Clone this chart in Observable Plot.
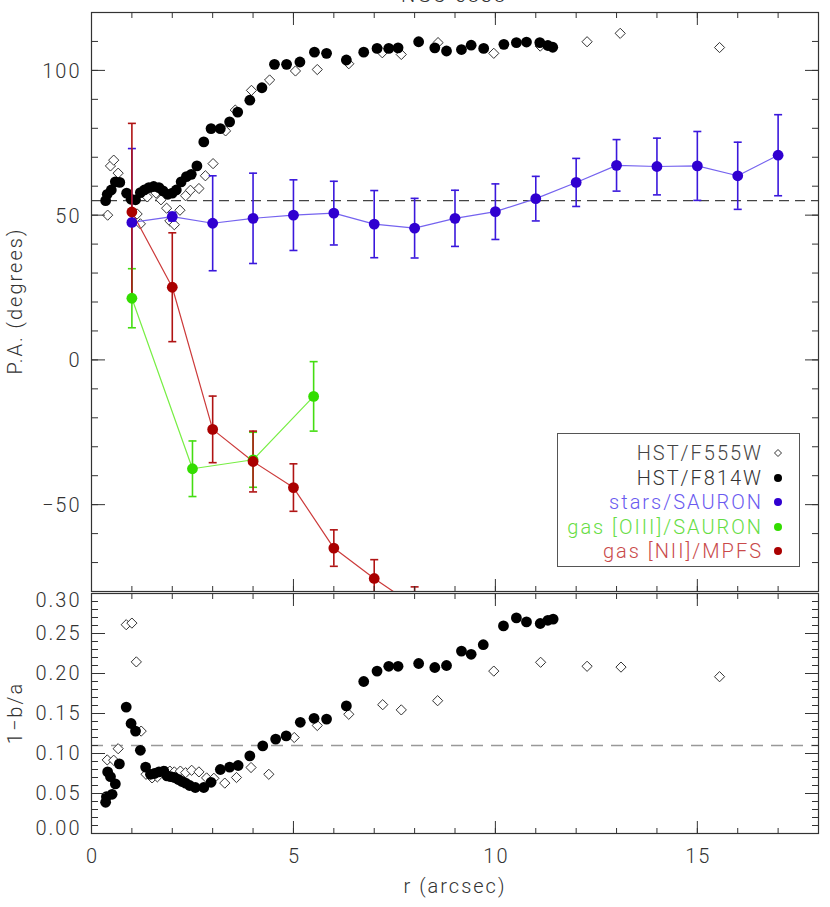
<!DOCTYPE html>
<html><head><meta charset="utf-8">
<script src="https://cdn.jsdelivr.net/npm/d3@7"></script>
<script src="https://cdn.jsdelivr.net/npm/@observablehq/plot@0.6"></script>
<style>
body{margin:0;background:#fff;}
#wrap{position:relative;width:830px;height:907px;overflow:hidden;font-family:Roboto,"DejaVu Sans",sans-serif;font-weight:300;color:#333;letter-spacing:2px;}
.panel{position:absolute;left:0;}
.lbl{position:absolute;font-size:20px;white-space:nowrap;color:#333;}
#legend{position:absolute;left:557px;top:433px;width:243px;height:134px;border:1px solid #555;box-sizing:border-box;background:#fff;}
.row{position:absolute;right:36px;font-size:20px;white-space:nowrap;line-height:22px;}
</style></head><body><div id="wrap"></div>
<script>
const title = "NGC 5838";
// ---- P.A. panel ----
const f555_r_pa = [0.40,0.47,0.55,0.66,1.13,1.21,1.38,1.60,1.72,1.86,1.94,2.05,2.19,2.33,2.45,2.66,2.82,3.01,3.32,3.56,3.96,4.41,5.05,5.59,6.37,7.20,7.67,8.58,9.96,11.11,12.27,13.09,15.55];
const f555_pa = [50.0,67.0,69.0,64.5,50.4,47.0,56.3,57.6,55.3,52.4,48.0,46.7,51.7,56.7,58.6,59.2,63.6,67.8,79.1,86.3,93.1,96.7,99.8,100.3,102.3,106.1,105.5,109.6,105.9,108.4,109.9,112.8,107.9];
const f814_r_pa = [0.35,0.39,0.49,0.59,0.70,0.87,0.98,1.09,1.21,1.31,1.42,1.54,1.67,1.77,1.89,2.00,2.10,2.22,2.35,2.47,2.61,2.78,2.96,3.19,3.42,3.62,3.92,4.22,4.53,4.83,5.16,5.52,5.82,6.31,6.74,7.07,7.36,7.59,8.10,8.50,8.79,9.16,9.40,9.71,10.21,10.52,10.77,11.10,11.30,11.42];
const f814_pa = [55.0,57.2,58.7,61.5,61.3,57.6,55.5,55.3,57.8,58.7,59.5,59.9,59.5,58.4,57.2,57.6,58.7,61.5,63.3,64.1,67.0,75.3,79.9,79.9,82.2,85.6,89.7,94.0,102.1,102.1,102.9,106.3,105.9,103.6,106.3,107.6,107.6,107.8,109.9,107.8,106.7,107.2,108.7,107.6,109.0,109.6,109.8,109.6,108.6,108.0];
const stars_r = [1,2,3,4,5,6,7,8,9,10,11,12,13,14,15,16,17];
const stars_pa = [47.5,49.5,47.2,48.9,50.0,50.7,46.9,45.5,48.9,51.2,55.7,61.3,67.2,66.8,67.0,63.6,70.7];
const stars_err = [25.5,1.5,16.4,15.6,12.2,11.0,11.6,10.3,9.7,9.6,7.7,8.3,8.9,9.8,11.9,11.6,14.0];
const oiii_r = [1,2.5,4,5.5];
const oiii_pa = [21.3,-37.6,-34.5,-12.6];
const oiii_err = [10.2,9.6,9.5,12.0];
const nii_r = [1,2,3,4,5,6,7,8];
const nii_pa = [51.1,25.1,-24.0,-35.1,-44.1,-65.0,-75.5,-85.0];
const nii_err = [30.6,18.8,11.5,10.5,8.2,6.3,6.5,6.6];
const pa_ref = 55;
// ---- ellipticity panel ----
const f555_r_e = [0.39,0.55,0.66,0.86,1.00,1.11,1.23,1.35,1.50,1.63,1.83,1.94,2.05,2.20,2.33,2.48,2.66,2.85,3.03,3.30,3.59,3.95,4.39,5.02,5.59,6.37,7.21,7.67,8.57,9.96,11.12,12.27,13.11,15.55];
const f555_e = [0.092,0.0916,0.106,0.261,0.263,0.2145,0.128,0.074,0.0695,0.0708,0.078,0.078,0.077,0.078,0.076,0.079,0.077,0.0695,0.069,0.063,0.070,0.0825,0.074,0.120,0.135,0.149,0.161,0.1545,0.166,0.203,0.214,0.209,0.208,0.196];
const f814_r_e = [0.35,0.37,0.40,0.47,0.51,0.59,0.69,0.86,0.98,1.09,1.21,1.34,1.46,1.56,1.67,1.79,1.87,1.96,2.05,2.15,2.24,2.33,2.43,2.57,2.78,2.96,3.19,3.42,3.63,3.92,4.24,4.56,4.82,5.17,5.51,5.82,6.31,6.74,7.07,7.36,7.59,8.10,8.50,8.79,9.16,9.40,9.70,10.20,10.52,10.77,11.11,11.30,11.43];
const f814_e = [0.039,0.046,0.077,0.071,0.049,0.062,0.087,0.158,0.1375,0.128,0.104,0.083,0.074,0.075,0.077,0.078,0.072,0.071,0.070,0.0675,0.065,0.063,0.060,0.0575,0.0575,0.064,0.080,0.083,0.085,0.097,0.1095,0.118,0.122,0.139,0.144,0.143,0.1595,0.190,0.203,0.209,0.209,0.2125,0.2075,0.210,0.228,0.224,0.236,0.2595,0.2695,0.2645,0.2625,0.2665,0.268];
const e_ref = 0.11;
const xTicksMajor = [0,5,10,15];
const xTicksMinor = d3.range(0,19,1);
const paTicksMajor = [-50,0,50,100];
const paTicksMinor = d3.range(-80,121,10);
const eTicksMajor = [0,0.05,0.10,0.15,0.20,0.25,0.30];
const eTicksInner = [0.05,0.10,0.15,0.20,0.25];
const eTicksMinor = d3.range(0,31,1).map(d=>d/100);

const zip = (xs, ys) => xs.map((x,i)=>({x, y: ys[i]}));
const errRows = (xs, ys, es) => xs.map((x,i)=>({x, y: ys[i], lo: ys[i]-es[i], hi: ys[i]+es[i]}));
const capSym = {draw(ctx, size){ const w = Math.sqrt(size/Math.PI); ctx.moveTo(-w,0); ctx.lineTo(w,0); }};
const axisCol = "#333";
const font = 'Roboto, "DejaVu Sans", sans-serif';
const pStyle = {fontFamily:font, fontSize:"20px", fontWeight:300, letterSpacing:"2px", background:"transparent", overflow:"visible"};

function frameTicks(yMaj, yMin, bottomLabels){
  const m = [
    Plot.axisX({anchor:"bottom", ticks:xTicksMinor, tickSize:-5, tickFormat:()=>"", label:null, stroke:axisCol}),
    Plot.axisX({anchor:"bottom", ticks:xTicksMajor, tickSize:-12, tickFormat:()=>"", label:null, stroke:axisCol}),
    Plot.axisX({anchor:"top", ticks:xTicksMinor, tickSize:-5, tickFormat:()=>"", label:null, stroke:axisCol}),
    Plot.axisX({anchor:"top", ticks:xTicksMajor, tickSize:-12, tickFormat:()=>"", label:null, stroke:axisCol}),
    Plot.axisY({anchor:"left", ticks:yMin, tickSize:-7, tickFormat:()=>"", label:null, stroke:axisCol}),
    Plot.axisY({anchor:"left", ticks:yMaj, tickSize:-14, tickFormat:()=>"", label:null, stroke:axisCol}),
    Plot.axisY({anchor:"right", ticks:yMin, tickSize:-7, tickFormat:()=>"", label:null, stroke:axisCol}),
    Plot.axisY({anchor:"right", ticks:yMaj, tickSize:-14, tickFormat:()=>"", label:null, stroke:axisCol}),
    Plot.frame({stroke:axisCol, strokeWidth:1.2})
  ];
  if (bottomLabels) m.push(Plot.axisX({anchor:"bottom", ticks:xTicksMajor, tickSize:0, tickPadding:15, label:null, fontSize:20, fill:"#333", dx:1}));
  return m;
}

function errMarks(rows, col){
  return [
    Plot.ruleX(rows, {x:"x", y1:"lo", y2:"hi", stroke:col, strokeWidth:1.6, clip:true}),
    Plot.dot(rows, {x:"x", y:"lo", symbol:capSym, r:4, stroke:col, strokeWidth:1.6, clip:true}),
    Plot.dot(rows, {x:"x", y:"hi", symbol:capSym, r:4, stroke:col, strokeWidth:1.6, clip:true})
  ];
}

const starsRows = errRows(stars_r, stars_pa, stars_err);
const oiiiRows = errRows(oiii_r, oiii_pa, oiii_err);
const niiRows = errRows(nii_r, nii_pa, nii_err);

const topPlot = Plot.plot({
  width:830, height:593, marginLeft:91, marginRight:12, marginTop:12, marginBottom:2,
  style:pStyle,
  x:{domain:[0,18]}, y:{domain:[-80,120]},
  marks:[
    Plot.ruleY([pa_ref], {stroke:"#444", strokeDasharray:"10,6", strokeWidth:1.2}),
    Plot.dot(zip(f555_r_pa, f555_pa), {x:"x", y:"y", symbol:"diamond2", r:4.6, stroke:"#333", fill:"white", strokeWidth:1, clip:true}),
    Plot.dot(zip(f814_r_pa, f814_pa), {x:"x", y:"y", r:5.4, fill:"black", clip:true}),
    ...errMarks(starsRows, "#3a18dc"),
    ...errMarks(oiiiRows, "#44dd11"),
    ...errMarks(niiRows, "#b01414"),
    Plot.line(starsRows, {x:"x", y:"y", stroke:"#7563ef", strokeWidth:1.2, clip:true}),
    Plot.line(oiiiRows, {x:"x", y:"y", stroke:"#77ee44", strokeWidth:1.2, clip:true}),
    Plot.line(niiRows, {x:"x", y:"y", stroke:"#cc3a3a", strokeWidth:1.2, clip:true}),
    Plot.dot(starsRows, {x:"x", y:"y", r:5.4, fill:"#3000d0", clip:true}),
    Plot.dot(oiiiRows, {x:"x", y:"y", r:5.4, fill:"#33dd00", clip:true}),
    Plot.dot(niiRows, {x:"x", y:"y", r:5.4, fill:"#aa0000", clip:true}),
    Plot.axisY({anchor:"left", ticks:paTicksMajor, tickSize:0, tickPadding:10, label:null, fontSize:20, fill:"#333", dy:1}),
    ...frameTicks(paTicksMajor, paTicksMinor, false)
  ]
});

const botPlot = Plot.plot({
  width:830, height:336, marginLeft:91, marginRight:12, marginTop:22, marginBottom:74,
  style:pStyle,
  x:{domain:[0,18]}, y:{domain:[0,0.30]},
  marks:[
    Plot.ruleY([e_ref], {stroke:"#999", strokeDasharray:"12,8", strokeWidth:1.6}),
    Plot.dot(zip(f555_r_e, f555_e), {x:"x", y:"y", symbol:"diamond2", r:4.6, stroke:"#333", fill:"white", strokeWidth:1}),
    Plot.dot(zip(f814_r_e, f814_e), {x:"x", y:"y", r:5.4, fill:"black"}),
    Plot.axisY({anchor:"left", ticks:eTicksInner, tickSize:0, tickPadding:10, tickFormat:d3.format(".2f"), label:null, fontSize:20, fill:"#333"}),
    Plot.axisY({anchor:"left", ticks:[0.30], tickSize:0, tickPadding:10, tickFormat:d3.format(".2f"), label:null, fontSize:20, fill:"#333", dy:7}),
    Plot.axisY({anchor:"left", ticks:[0], tickSize:0, tickPadding:10, tickFormat:d3.format(".2f"), label:null, fontSize:20, fill:"#333", dy:-5}),
    ...frameTicks(eTicksMajor, eTicksMinor, true)
  ]
});

const wrap = document.getElementById("wrap");
topPlot.classList.add("panel"); topPlot.style.top = "0px";
botPlot.classList.add("panel"); botPlot.style.top = "571px";
wrap.appendChild(topPlot); wrap.appendChild(botPlot);

function addLabel(text, x, y, rot, size){
  const d = document.createElement("div");
  d.className = "lbl"; d.textContent = text;
  d.style.left = x+"px"; d.style.top = y+"px";
  if (size) d.style.fontSize = size+"px";
  d.style.transform = "translate(-50%,-50%)" + (rot ? " rotate(-90deg)" : "");
  wrap.appendChild(d);
}
addLabel(title, 454, -5, false, 20);
addLabel("P.A. (degrees)", 15, 301, true);
addLabel("1\u2212b/a", 15, 713, true);
addLabel("r (arcsec)", 455, 886, false);

// legend
const legendItems = [
  {label:"HST/F555W", text:"#444", sym:"diamond", col:"#333"},
  {label:"HST/F814W", text:"#333", sym:"dot", col:"#000"},
  {label:"stars/SAURON", text:"#6a5af0", sym:"dot", col:"#3000d0"},
  {label:"gas [OIII]/SAURON", text:"#66dd44", sym:"dot", col:"#33dd00"},
  {label:"gas [NII]/MPFS", text:"#c94a4a", sym:"dot", col:"#aa0000"}
];
const lg = document.createElement("div"); lg.id = "legend"; wrap.appendChild(lg);
legendItems.forEach((it,i)=>{
  const cy = 19 + i*24.5;
  const r = document.createElement("div"); r.className = "row";
  r.style.top = (cy-11)+"px"; r.style.color = it.text; r.textContent = it.label;
  lg.appendChild(r);
  const s = document.createElementNS("http://www.w3.org/2000/svg","svg");
  s.setAttribute("width","12"); s.setAttribute("height","12");
  s.style.position="absolute"; s.style.left="214px"; s.style.top=(cy-6)+"px";
  s.innerHTML = it.sym==="dot" ? `<circle cx="6" cy="6" r="4" fill="${it.col}"/>` : `<path d="M6,2.5L9.5,6L6,9.5L2.5,6Z" fill="white" stroke="${it.col}" stroke-width="1"/>`;
  lg.appendChild(s);
});
</script></body></html>
